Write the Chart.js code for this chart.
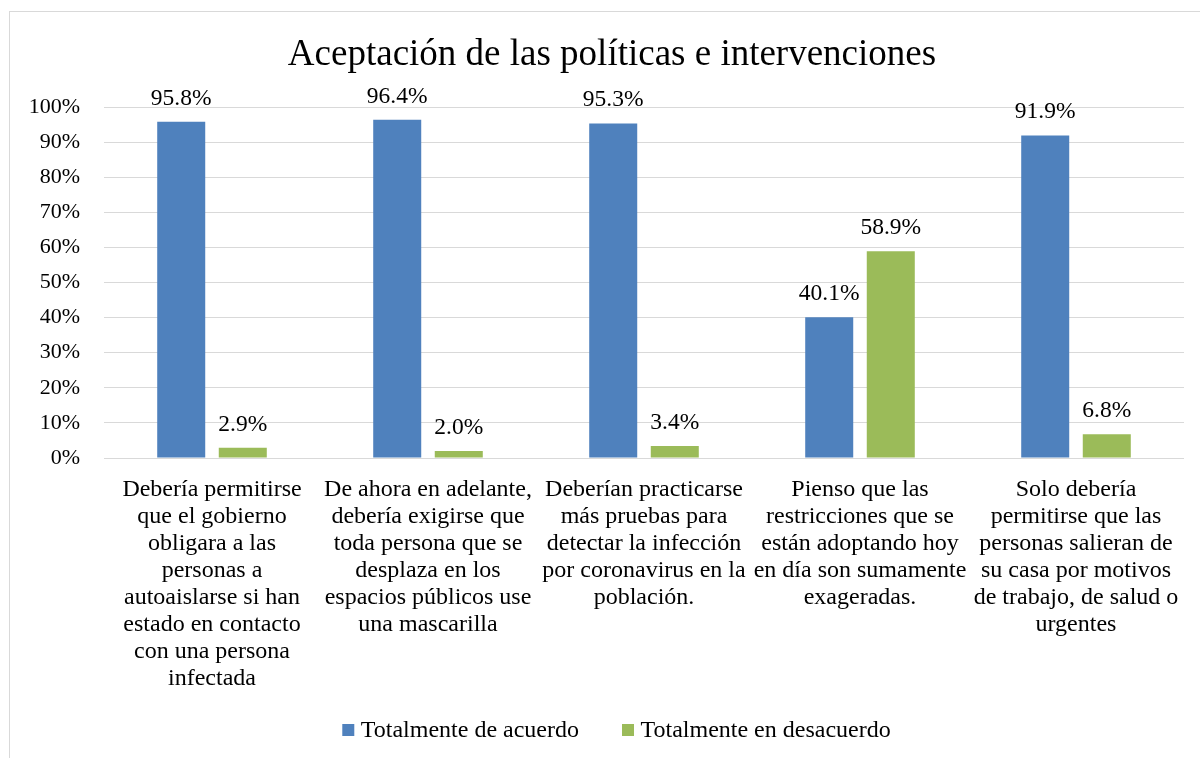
<!DOCTYPE html>
<html>
<head>
<meta charset="utf-8">
<script src="https://cdn.jsdelivr.net/npm/chart.js@4.4.0/dist/chart.umd.min.js"></script>
<style>
  html, body { margin: 0; padding: 0; background: #fff; }
  #wrap { position: relative; width: 1200px; height: 758px; }
</style>
</head>
<body>
<div id="wrap"><canvas id="c" width="1200" height="758"></canvas></div>
<script>
const titleText = 'Aceptación de las políticas e intervenciones';
const categories = [
  ['Debería permitirse', 'que el gobierno', 'obligara a las', 'personas a', 'autoaislarse si han', 'estado en contacto', 'con una persona', 'infectada'],
  ['De ahora en adelante,', 'debería exigirse que', 'toda persona que se', 'desplaza en los', 'espacios públicos use', 'una mascarilla'],
  ['Deberían practicarse', 'más pruebas para', 'detectar la infección', 'por coronavirus en la', 'población.'],
  ['Pienso que las', 'restricciones que se', 'están adoptando hoy', 'en día son sumamente', 'exageradas.'],
  ['Solo debería', 'permitirse que las', 'personas salieran de', 'su casa por motivos', 'de trabajo, de salud o', 'urgentes']
];
const seriesNames = ['Totalmente de acuerdo', 'Totalmente en desacuerdo'];
const acuerdo = [95.8, 96.4, 95.3, 40.1, 91.9];
const desacuerdo = [2.9, 2.0, 3.4, 58.9, 6.8];
const yTicks = [0, 10, 20, 30, 40, 50, 60, 70, 80, 90, 100];

const FONT = '"Liberation Serif", "Times New Roman", serif';
const BLUE = '#4F81BD';
const GREEN = '#9BBB59';

const frame = {
  id: 'frame',
  beforeDraw(chart) {
    const ctx = chart.ctx;
    ctx.save();
    ctx.strokeStyle = '#D9D9D9';
    ctx.lineWidth = 1;
    ctx.strokeRect(9.5, 11.5, 1300, 900);
    ctx.restore();
  }
};

const customTitle = {
  id: 'customTitle',
  afterDraw(chart) {
    const ctx = chart.ctx;
    ctx.save();
    ctx.font = '37px ' + FONT;
    ctx.fillStyle = '#000';
    ctx.textAlign = 'center';
    ctx.textBaseline = 'middle';
    ctx.fillText(titleText, 612, 55);
    ctx.restore();
  }
};

const dataLabels = {
  id: 'dataLabels',
  afterDatasetsDraw(chart) {
    const ctx = chart.ctx;
    ctx.save();
    ctx.font = '23.5px ' + FONT;
    ctx.fillStyle = '#000';
    ctx.textAlign = 'center';
    ctx.textBaseline = 'alphabetic';
    chart.data.datasets.forEach((ds, i) => {
      chart.getDatasetMeta(i).data.forEach((bar, j) => {
        ctx.fillText(ds.data[j].toFixed(1) + '%', bar.x, bar.y - 17);
      });
    });
    ctx.restore();
  }
};

const customLegend = {
  id: 'customLegend',
  afterDraw(chart) {
    const ctx = chart.ctx;
    ctx.save();
    ctx.font = '24px ' + FONT;
    ctx.textBaseline = 'middle';
    ctx.textAlign = 'left';
    const box = 12, gap = 6.5, itemGap = 43;
    const items = chart.data.datasets.map(ds => ({ label: ds.label, color: ds.backgroundColor, w: box + gap + ctx.measureText(ds.label).width }));
    const total = items.reduce((s, it) => s + it.w, 0) + itemGap * (items.length - 1);
    let x = 616.5 - total / 2;
    const y = 730;
    items.forEach(it => {
      ctx.fillStyle = it.color;
      ctx.fillRect(x, y - box / 2, box, box);
      ctx.fillStyle = '#000';
      ctx.fillText(it.label, x + box + gap, y + 1);
      x += it.w + itemGap;
    });
    ctx.restore();
  }
};

new Chart(document.getElementById('c'), {
  type: 'bar',
  data: {
    labels: categories,
    datasets: [
      { label: seriesNames[0], data: acuerdo, backgroundColor: BLUE, categoryPercentage: 0.57, barPercentage: 0.78 },
      { label: seriesNames[1], data: desacuerdo, backgroundColor: GREEN, categoryPercentage: 0.57, barPercentage: 0.78 }
    ]
  },
  options: {
    responsive: false,
    animation: false,
    layout: { padding: { left: 12, right: 16, top: 107, bottom: 60 } },
    plugins: {
      legend: { display: false },
      tooltip: { enabled: false },
      title: { display: false }
    },
    scales: {
      x: {
        grid: { display: false, drawTicks: false },
        border: { display: false },
        ticks: {
          color: '#000',
          font: { family: FONT, size: 24, lineHeight: 1.125 },
          padding: 18.5,
          maxRotation: 0,
          minRotation: 0,
          autoSkip: false
        },
        afterFit(scale) { scale.height = 240; }
      },
      y: {
        min: 0,
        max: 100,
        grid: { color: '#D9D9D9', lineWidth: 1, drawTicks: false },
        border: { display: false },
        afterBuildTicks(scale) { scale.ticks = yTicks.map(v => ({ value: v })); },
        ticks: {
          color: '#000',
          font: { family: FONT, size: 22 },
          padding: 24,
          callback: v => v + '%'
        },
        afterFit(scale) { scale.width = 92; }
      }
    }
  },
  plugins: [frame, customTitle, dataLabels, customLegend]
});
</script>
</body>
</html>
